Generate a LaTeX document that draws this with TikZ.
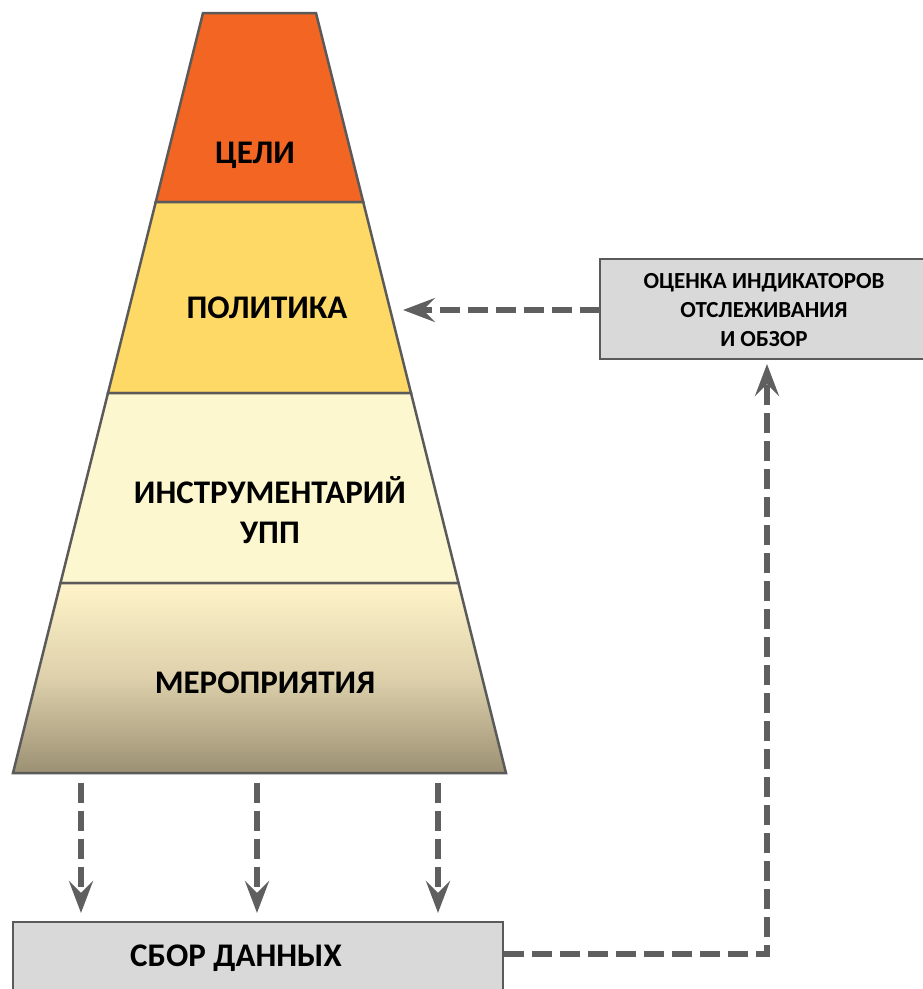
\documentclass[tikz,border=0pt]{standalone}
\usepackage{fontspec}
\setmainfont{Carlito}
\usetikzlibrary{arrows.meta}
\definecolor{edgegray}{HTML}{5A5A5A}
\definecolor{arrowgray}{HTML}{5F5F5F}
\definecolor{boxgray}{HTML}{D9D9D9}
\definecolor{orangeL}{HTML}{F26522}
\definecolor{yellowL}{HTML}{FFD966}
\definecolor{paleL}{HTML}{FCF7CE}
\definecolor{gradTop}{HTML}{FFF4C9}
\definecolor{gradMid}{HTML}{DDD0AB}
\definecolor{gradBot}{HTML}{9C9074}
\begin{document}
\begin{tikzpicture}[x=1pt,y=-1pt,
  layer/.style={draw=edgegray, line width=2.5pt, line join=miter},
  lbl/.style={font=\fontsize{33}{40}\selectfont\bfseries, align=center, inner sep=0pt},
  smalllbl/.style={font=\fontsize{23}{29}\selectfont\bfseries, align=center, inner sep=0pt},
  boxshape/.style={draw=edgegray, fill=boxgray, line width=2.5pt},
  flow/.style={draw=arrowgray, line width=5.5pt, dash pattern=on 20pt off 8pt,
    -{Stealth[length=32pt,width=24pt,inset=12pt]}}
]
\useasboundingbox (0,0) rectangle (922,989);

% pyramid layers
\path[layer, fill=orangeL] (203,13) -- (316,13) -- (363.25,202) -- (155.75,202) -- cycle;
\path[layer, fill=yellowL] (155.75,202) -- (363.25,202) -- (411,393) -- (108,393) -- cycle;
\path[layer, fill=paleL] (108,393) -- (411,393) -- (458.5,583) -- (60.5,583) -- cycle;
\path[layer, top color=gradTop, bottom color=gradBot, middle color=gradMid] (60.5,583) -- (458.5,583) -- (506,773) -- (13,773) -- cycle;

\node[lbl] (goals) at (255,155) {ЦЕЛИ};
\node[lbl] (policy) at (267,308) {ПОЛИТИКА};
\node[lbl] (tools) at (270,510) {ИНСТРУМЕНТАРИЙ\\УПП};
\node[lbl] (actions) at (265,683) {МЕРОПРИЯТИЯ};

% boxes
\path[boxshape] (600,259) rectangle (930,359);
\node[smalllbl] (review) at (764,310) {ОЦЕНКА ИНДИКАТОРОВ\\ОТСЛЕЖИВАНИЯ\\И ОБЗОР};
\coordinate (reviewW) at (600,310);

\path[boxshape] (13,922) rectangle (503,1000);
\node[lbl] (data) at (236,958) {СБОР ДАННЫХ};
\coordinate (dataE) at (504,954);

% connectors
\coordinate (polEdge) at (403,310);
\draw[flow] (reviewW) -- (polEdge);

\coordinate (s1) at (81,783);
\coordinate (s2) at (257,783);
\coordinate (s3) at (438,783);
\coordinate (t1) at (81,913);
\coordinate (t2) at (257,913);
\coordinate (t3) at (438,913);
\draw[flow] (s1) -- (t1);
\draw[flow] (s2) -- (t2);
\draw[flow] (s3) -- (t3);

\coordinate (corner) at (767,954);
\coordinate (reviewTip) at (767,364);
\draw[flow] (dataE) -- (corner) -- (reviewTip);
\end{tikzpicture}
\end{document}
